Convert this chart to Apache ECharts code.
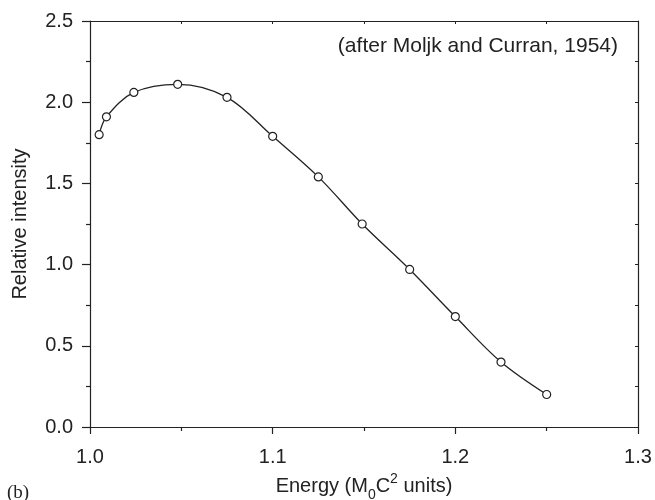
<!DOCTYPE html>
<html>
<head>
<meta charset="utf-8">
<script src="https://cdn.jsdelivr.net/npm/echarts@6/dist/echarts.min.js"></script>
<style>html,body{margin:0;padding:0;background:#fff;}#c{width:655px;height:500px;}</style>
</head>
<body>
<div id="c"></div>
<script>
const energy = [1.005, 1.009, 1.024, 1.048, 1.075, 1.100, 1.125, 1.149, 1.175, 1.200, 1.225, 1.250];
const intensity = [1.80, 1.91, 2.06, 2.11, 2.03, 1.79, 1.54, 1.25, 0.97, 0.68, 0.40, 0.20];
const xLabelsText = ['1.0', '1.1', '1.2', '1.3'];
const yLabelsText = ['0.0', '0.5', '1.0', '1.5', '2.0', '2.5'];

const ink = '#222';
const font = 'Liberation Sans, Arial, Helvetica, sans-serif';
const chart = echarts.init(document.getElementById('c'));
chart.setOption({
  animation: false,
  backgroundColor: '#fff',
  grid: { left: 90, top: 21, right: 17, bottom: 73, show: false, containLabel: false, outerBoundsMode: 'none' },
  xAxis: [{
    type: 'value', min: 1.0, max: 1.3, interval: 0.1, position: 'bottom',
    axisLine: { show: true, onZero: false, lineStyle: { color: ink, width: 1.2 } },
    axisTick: { show: true, inside: false, length: 7, lineStyle: { color: ink, width: 1.2 } },
    minorTick: { show: true, splitNumber: 2, length: 4, lineStyle: { color: ink, width: 1.2 } },
    splitLine: { show: false },
    axisLabel: { margin: 20, color: ink, fontSize: 20, fontFamily: font,
      formatter: function (v) { const i = Math.round((v - 1.0) / 0.1); return xLabelsText[i] || ''; } },
    name: 'Energy (M{sub|0}C{sup|2} units)',
    nameLocation: 'middle', nameGap: 35,
    nameTextStyle: { color: ink, fontSize: 20, fontFamily: font,
      rich: {
        sub: { fontSize: 14, verticalAlign: 'bottom', padding: [16, 0, 0, 0], color: ink, fontFamily: font },
        sup: { fontSize: 14, verticalAlign: 'top', padding: [0, 0, 0, 0], color: ink, fontFamily: font }
      } }
  }, {
    type: 'value', min: 1.0, max: 1.3, interval: 0.05, position: 'top',
    axisLine: { show: true, onZero: false, lineStyle: { color: ink, width: 1.2 } },
    axisTick: { show: true, inside: true, length: 3, lineStyle: { color: ink, width: 1 } },
    axisLabel: { show: false }, splitLine: { show: false }
  }],
  yAxis: [{
    type: 'value', min: 0, max: 2.5, interval: 0.5, position: 'left',
    axisLine: { show: true, onZero: false, lineStyle: { color: ink, width: 1.2 } },
    axisTick: { show: true, inside: false, length: 8, lineStyle: { color: ink, width: 1.2 } },
    minorTick: { show: true, splitNumber: 2, length: 4, lineStyle: { color: ink, width: 1.2 } },
    splitLine: { show: false },
    axisLabel: { margin: 17, color: ink, fontSize: 20, fontFamily: font,
      formatter: function (v) { const i = Math.round(v / 0.5); return yLabelsText[i] || ''; } },
    name: 'Relative intensity', nameLocation: 'middle', nameGap: 60,
    nameTextStyle: { color: ink, fontSize: 20, fontFamily: font }
  }, {
    type: 'value', min: 0, max: 2.5, interval: 0.25, position: 'right',
    axisLine: { show: true, onZero: false, lineStyle: { color: ink, width: 1.2 } },
    axisTick: { show: true, inside: true, length: 3, lineStyle: { color: ink, width: 1 } },
    axisLabel: { show: false }, splitLine: { show: false }
  }],
  series: [{
    type: 'line',
    xAxisIndex: 0, yAxisIndex: 0,
    data: energy.map((e, i) => [e, intensity[i]]),
    smooth: 0.35,
    symbol: 'circle', symbolSize: 8,
    itemStyle: { color: '#fff', borderColor: ink, borderWidth: 1.2 },
    lineStyle: { color: ink, width: 1.3 },
    z: 3
  }],
  graphic: [{
    type: 'text', right: 37, top: 36,
    style: { text: '(after Moljk and Curran, 1954)', fill: ink, fontSize: 21, fontFamily: font }
  }, {
    type: 'text', left: 7, top: 484,
    style: { text: '(b)', fill: ink, fontSize: 19, fontFamily: 'Liberation Serif, Times New Roman, serif' }
  }]
});
</script>
</body>
</html>
